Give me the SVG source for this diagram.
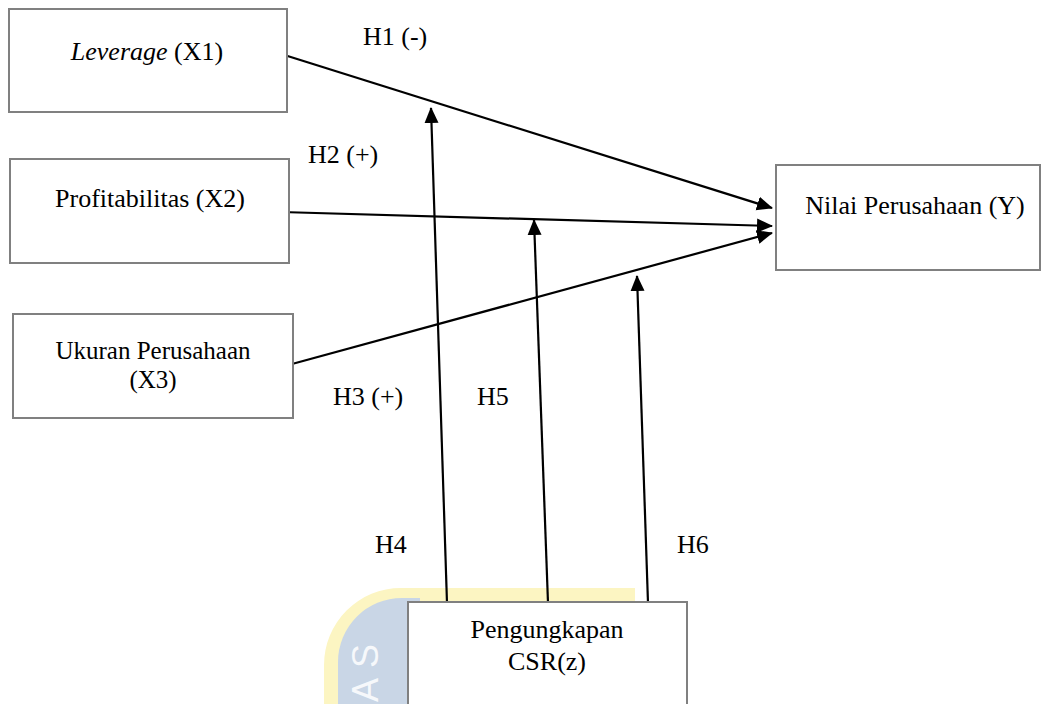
<svg xmlns="http://www.w3.org/2000/svg" width="1048" height="704" viewBox="0 0 1048 704">
  <style>
    .box { fill: #ffffff; stroke: #808080; stroke-width: 2; }
    .t { font-family: "Liberation Serif", "Times New Roman", serif; font-size: 26px; fill: #000000; }
    .s { font-size: 25px; }
    .c { text-anchor: middle; }
    .conn { stroke: #000000; stroke-width: 2.2; fill: none; marker-end: url(#arrow); }
    .wm { font-family: "Liberation Sans", Arial, sans-serif; font-size: 36px; fill: #ffffff; fill-opacity: 0.85; }
  </style>
  <defs>
    <marker id="arrow" markerUnits="userSpaceOnUse" markerWidth="16" markerHeight="16" viewBox="0 0 16 14" refX="15" refY="7" orient="auto">
      <path d="M0,0 L16,7 L0,14 z" fill="#000000"/>
    </marker>
  </defs>
  <rect x="0" y="0" width="1048" height="704" fill="#ffffff"/>

  <g id="watermark">
    <path d="M324,704 V665 A77,77 0 0 1 401,588 H635 V610 H420 V704 Z" fill="#fcf5c2"/>
    <path d="M338,704 V662 A64,64 0 0 1 402,598 H420 V704 Z" fill="#c9d6e6"/>
    <text class="wm" transform="translate(378,656) rotate(-90)" text-anchor="middle">S</text>
    <text class="wm" transform="translate(378,690) rotate(-90)" text-anchor="middle">A</text>
  </g>

  <g id="connectors">
    <line class="conn" x1="278" y1="53" x2="772" y2="208"/>
    <line class="conn" x1="281" y1="212" x2="772" y2="226"/>
    <line class="conn" x1="292" y1="364" x2="772" y2="233"/>
    <line class="conn" x1="447" y1="603" x2="431" y2="108"/>
    <line class="conn" x1="548" y1="603" x2="534" y2="220"/>
    <line class="conn" x1="648" y1="603" x2="637" y2="276"/>
  </g>

  <g id="labels">
    <text class="t" x="363" y="45">H1 (-)</text>
    <text class="t" x="308" y="163">H2 (+)</text>
    <text class="t" x="333" y="405">H3 (+)</text>
    <text class="t" x="477" y="405">H5</text>
    <text class="t" x="375" y="553">H4</text>
    <text class="t" x="677" y="553">H6</text>
  </g>

  <g id="node-x1">
    <rect class="box" x="9" y="9" width="278" height="103"/>
    <text class="t c" x="147" y="60"><tspan font-style="italic">Leverage</tspan> (X1)</text>
  </g>
  <g id="node-x2">
    <rect class="box" x="10" y="159" width="279" height="104"/>
    <text class="t c" x="150" y="207">Profitabilitas (X2)</text>
  </g>
  <g id="node-x3">
    <rect class="box" x="13" y="314" width="280" height="104"/>
    <text class="t s c" x="153" y="359">Ukuran Perusahaan</text>
    <text class="t s c" x="153" y="388">(X3)</text>
  </g>
  <g id="node-y">
    <rect class="box" x="776" y="165" width="264" height="105"/>
    <text class="t c" x="915" y="214">Nilai Perusahaan (Y)</text>
  </g>
  <g id="node-z">
    <rect class="box" x="408" y="602" width="279" height="120"/>
    <text class="t c" x="547" y="638">Pengungkapan</text>
    <text class="t c" x="547" y="670">CSR(z)</text>
  </g>
</svg>
